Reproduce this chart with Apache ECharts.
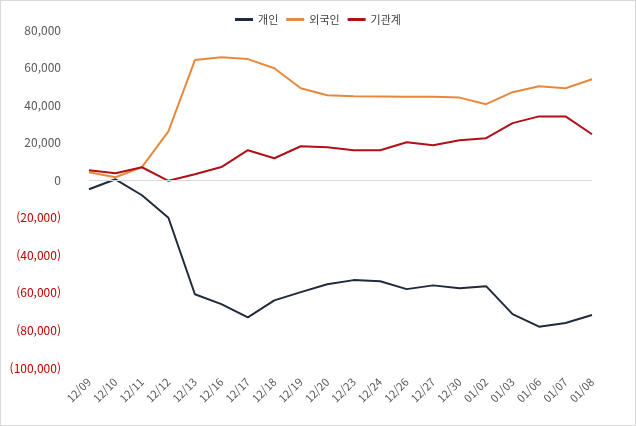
<!DOCTYPE html>
<html lang="ko">
<head>
<meta charset="UTF-8">
<title>수급</title>
<style>
  html, body { margin: 0; padding: 0; background: #fff; }
  #main { width: 634px; height: 424px; border: 1px solid #d9d9d9; }
</style>
</head>
<body>
<div id="main"></div>
<script src="https://cdn.jsdelivr.net/npm/echarts@6/dist/echarts.min.js"></script>
<script>
var dates = ['12/09','12/10','12/11','12/12','12/13','12/16','12/17','12/18','12/19','12/20',
             '12/23','12/24','12/26','12/27','12/30','01/02','01/03','01/06','01/07','01/08'];
var individual = [-4800, 500, -8000, -20000, -60700, -66000, -73000, -64000, -59600, -55400,
                  -53200, -53800, -58000, -56000, -57500, -56400, -71300, -78000, -76000, -71800];
var foreign = [4300, 1600, 7000, 26000, 64000, 65500, 64500, 59600, 49000, 45300,
               44700, 44600, 44500, 44400, 44000, 40500, 46900, 50000, 49000, 53800];
var institution = [5300, 3700, 6900, -300, 3200, 7000, 16000, 11700, 18100, 17500,
                   16000, 16000, 20200, 18600, 21300, 22400, 30400, 34000, 34000, 24500];

var myChart = echarts.init(document.getElementById('main'));
var font = 'Noto Sans CJK KR';
function fmt(v) {
    var s = Math.abs(v).toLocaleString('en-US');
    return v < 0 ? '{neg|(' + s + ')}' : s;
}
function line(name, data, color) {
    return { name: name, type: 'line', data: data, symbol: 'none',
             lineStyle: { color: color, width: 2 }, itemStyle: { color: color } };
}
myChart.setOption({
    textStyle: { fontFamily: font },
    legend: { top: 8, left: 'center', itemWidth: 18, itemHeight: 3, icon: 'rect',
              textStyle: { fontSize: 11, color: '#404040' } },
    grid: { left: 88, right: 43, top: 29, bottom: 57 },
    xAxis: { type: 'category', data: dates, boundaryGap: false,
             axisLine: { show: false }, axisTick: { show: false },
             axisLabel: { rotate: 45, color: '#595959', fontSize: 11, margin: 12 } },
    yAxis: { type: 'value', min: -100000, max: 80000, interval: 20000,
             splitLine: { show: false },
             axisLine: { show: false }, axisTick: { show: false },
             axisLabel: { formatter: fmt, color: '#595959', fontSize: 12, margin: 28,
                          rich: { neg: { color: '#c00000', fontSize: 12 } } } },
    series: [
        Object.assign(line('개인', individual, '#1f2a3c'), {
            markLine: { silent: true, symbol: 'none', label: { show: false },
                        lineStyle: { color: '#d9d9d9', type: 'solid', width: 1 },
                        data: [{ yAxis: 0 }] } }),
        line('외국인', foreign, '#e8883c'),
        line('기관계', institution, '#b01018')
    ]
});
</script>
</body>
</html>
